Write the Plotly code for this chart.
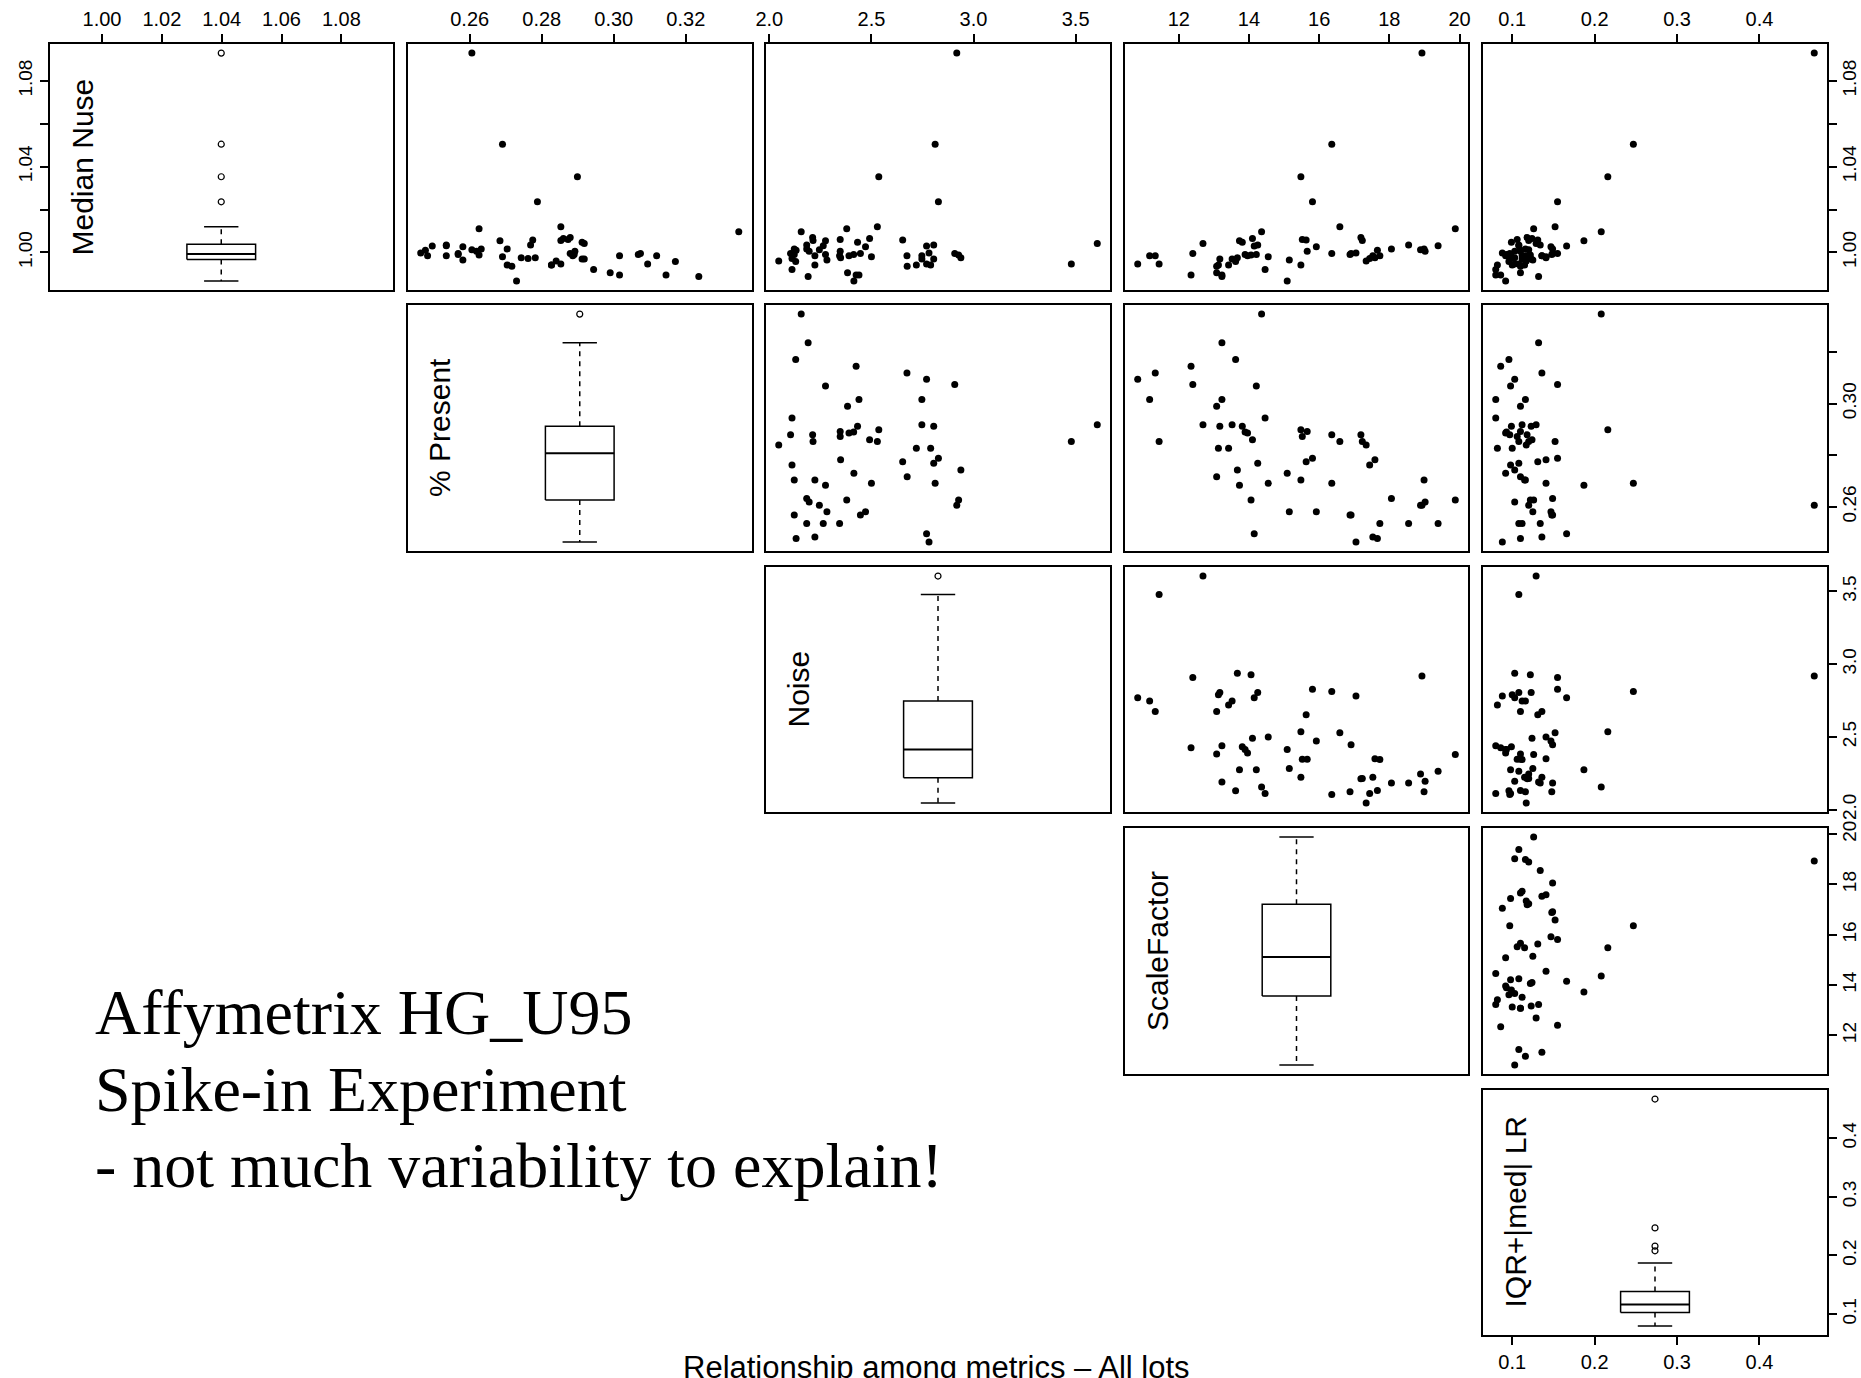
import numpy as np
import plotly.graph_objects as go

# ---- data: one entry per lot -------------------------------------------
median_nuse = [1.0096, 0.9887, 0.9957, 0.9894, 0.9984, 0.9946, 0.9995, 0.9990, 0.9984, 0.9894,
               0.9905, 0.9920, 1.0042, 0.9969, 0.9969, 1.0047, 0.9984, 0.9990, 1.0065, 0.9946,
               0.9941, 0.9941, 1.0353, 1.0005, 1.0060, 0.9995, 1.0120, 1.0070, 1.0055, 0.9960,
               1.0035, 1.0058, 1.0236, 0.9975, 0.9972, 0.9975, 0.9935, 0.9867, 0.9941, 1.0054,
               0.9980, 1.0505, 1.0016, 0.9988, 1.0016, 1.0930, 1.0005, 1.0012, 1.0110, 0.9964,
               1.0026, 0.9995, 0.9990, 0.9984, 1.0034, 1.0031, 1.0030, 0.9997, 0.9984, 1.0010]

pct_present = [0.3347, 0.3236, 0.3171, 0.3145, 0.3119, 0.3094, 0.3074, 0.3068, 0.3016, 0.3016,
               0.2990, 0.2944, 0.2918, 0.2912, 0.2918, 0.2912, 0.2886, 0.2890, 0.2860, 0.2853,
               0.2827, 0.2827, 0.2899, 0.2892, 0.2873, 0.2879, 0.2853, 0.2879, 0.2853, 0.2840,
               0.2769, 0.2775, 0.2788, 0.2782, 0.2762, 0.2743, 0.2717, 0.2730, 0.2704, 0.2684,
               0.2691, 0.2691, 0.2704, 0.2626, 0.2632, 0.2606, 0.2619, 0.2606, 0.2626, 0.2581,
               0.2581, 0.2568, 0.2568, 0.2535, 0.2535, 0.2535, 0.2496, 0.2464, 0.2483, 0.2477]

noise = [2.156, 2.190, 2.129, 2.425, 2.674, 2.770, 2.908, 2.275, 2.747, 2.439,
         2.383, 2.111, 3.606, 2.805, 2.747, 2.432, 2.390, 2.413, 2.491, 3.479,
         2.790, 2.720, 2.536, 2.347, 2.347, 2.104, 2.529, 2.212, 2.214, 2.046,
         2.805, 2.653, 2.828, 2.349, 2.111, 2.938, 2.675, 2.414, 2.223, 2.275,
         2.500, 2.812, 2.122, 2.927, 2.183, 2.918, 2.195, 2.245, 2.379, 2.282,
         2.471, 2.446, 2.122, 2.344, 2.183, 2.264, 2.770, 2.782, 2.223, 2.131]

scale_factor = [14.36, 13.23, 13.62, 12.35, 11.33, 10.83, 12.40, 14.21, 11.17, 13.23,
                13.08, 14.46, 12.69, 13.17, 13.52, 13.81, 13.96, 13.89, 14.10, 11.44,
                13.13, 13.42, 15.48, 15.66, 15.52, 16.36, 16.59, 17.19, 17.23, 17.34,
                14.25, 15.63, 15.81, 17.59, 17.44, 13.67, 13.08, 15.09, 15.48, 13.73,
                14.55, 16.36, 18.99, 14.06, 18.06, 18.93, 19.02, 18.89, 19.88, 15.15,
                15.92, 16.91, 16.88, 17.73, 18.55, 19.39, 14.15, 17.05, 17.53, 17.66]

iqr_med_lr = [0.208, 0.132, 0.096, 0.086, 0.136, 0.103, 0.155, 0.098, 0.116, 0.080,
              0.110, 0.080, 0.129, 0.123, 0.112, 0.099, 0.092, 0.093, 0.124, 0.108,
              0.100, 0.082, 0.216, 0.110, 0.106, 0.097, 0.152, 0.118, 0.120, 0.117,
              0.108, 0.131, 0.155, 0.141, 0.098, 0.103, 0.110, 0.092, 0.115, 0.187,
              0.141, 0.247, 0.116, 0.122, 0.149, 0.4665, 0.103, 0.120, 0.126, 0.125,
              0.147, 0.149, 0.148, 0.112, 0.134, 0.108, 0.166, 0.088, 0.136, 0.110]

var_names = ["Median Nuse", "% Present", "Noise", "ScaleFactor", "IQR+|med| LR"]

tick_vals = [[1.00, 1.02, 1.04, 1.06, 1.08],
             [0.26, 0.28, 0.30, 0.32],
             [2.0, 2.5, 3.0, 3.5],
             [12, 14, 16, 18, 20],
             [0.1, 0.2, 0.3, 0.4]]
tick_text_h = [["1.00", "1.02", "1.04", "1.06", "1.08"],
               ["0.26", "0.28", "0.30", "0.32"],
               ["2.0", "2.5", "3.0", "3.5"],
               ["12", "14", "16", "18", "20"],
               ["0.1", "0.2", "0.3", "0.4"]]
tick_text_v = [["1.00", "", "1.04", "", "1.08"],
               ["0.26", "", "0.30", ""],
               ["2.0", "2.5", "3.0", "3.5"],
               ["12", "14", "16", "18", "20"],
               ["0.1", "0.2", "0.3", "0.4"]]

title_text = "Relationship among metrics \u2013 All lots"
note_lines = ["Affymetrix HG_U95", "Spike-in Experiment", "- not much variability to explain!"]

# ---- page geometry (pixels) -------------------------------------------
W, H = 1861, 1378
col_px = [(49.5, 393), (408, 751.5), (766, 1110), (1125, 1468), (1483, 1827)]
row_px = [(44, 290), (305, 551), (567, 812), (828, 1074), (1090, 1335)]

data = [np.array(v, dtype=float) for v in
        (median_nuse, pct_present, noise, scale_factor, iqr_med_lr)]


def padded_range(v):
    lo, hi = v.min(), v.max()
    d = 0.04 * (hi - lo)
    return [lo - d, hi + d]


ranges = [padded_range(v) for v in data]


def fivenum(v):
    x = np.sort(v)
    n = len(x)
    n4 = np.floor((n + 3) / 2) / 2
    d = np.array([1, n4, (n + 1) / 2, n + 1 - n4, n]) - 1
    return 0.5 * (x[np.floor(d).astype(int)] + x[np.ceil(d).astype(int)])


FONT = "Liberation Sans, Arial, sans-serif"
fig = go.Figure()
layout = dict(width=W, height=H, margin=dict(l=0, r=0, t=0, b=0, autoexpand=False),
              paper_bgcolor="white", plot_bgcolor="white", showlegend=False,
              annotations=[])

k = 0
for i in range(5):
    for j in range(i, 5):
        k += 1
        sfx = "" if k == 1 else str(k)
        xa, ya = "x" + sfx, "y" + sfx
        x0, x1 = col_px[j]
        y0, y1 = row_px[i]

        xaxis = dict(domain=[x0 / W, x1 / W], range=ranges[j], anchor=ya,
                     showline=True, mirror=True, linecolor="black", linewidth=1.8,
                     showgrid=False, zeroline=False, fixedrange=True, automargin=False,
                     showticklabels=False, ticks="")
        yaxis = dict(domain=[1 - y1 / H, 1 - y0 / H], range=ranges[i], anchor=xa,
                     showline=True, mirror=True, linecolor="black", linewidth=1.8,
                     showgrid=False, zeroline=False, fixedrange=True, automargin=False,
                     showticklabels=False, ticks="")
        tick_common = dict(ticks="outside", ticklen=8, tickwidth=1.5, tickcolor="black",
                           showticklabels=True)
        if i == 0:
            xaxis.update(tick_common, side="top", tickmode="array",
                         tickvals=tick_vals[j], ticktext=tick_text_h[j],
                         tickfont=dict(family=FONT, size=20, color="black"))
        if i == 4 and j == 4:
            xaxis.update(tick_common, side="bottom", tickmode="array",
                         tickvals=tick_vals[j], ticktext=tick_text_h[j],
                         tickfont=dict(family=FONT, size=20, color="black"))
        if j == 4:
            yaxis.update(tick_common, side="right", tickangle=-90, tickmode="array",
                         tickvals=tick_vals[i], ticktext=tick_text_v[i],
                         ticklabelstandoff=-4,
                         tickfont=dict(family=FONT, size=19, color="black"))
        if i == 0 and j == 0:
            yaxis.update(tick_common, side="left", tickangle=-90, tickmode="array",
                         tickvals=tick_vals[i], ticktext=tick_text_v[i],
                         tickfont=dict(family=FONT, size=19, color="black"))

        layout["xaxis" + sfx] = xaxis
        layout["yaxis" + sfx] = yaxis

        if i != j:
            fig.add_trace(go.Scatter(x=data[j], y=data[i], mode="markers",
                                     xaxis=xa, yaxis=ya, hoverinfo="skip",
                                     marker=dict(color="black", size=7, line=dict(width=0))))
        else:
            v = data[i]
            lo, hi = ranges[i]
            c = 0.5 * (lo + hi)
            hw = 0.1 * (hi - lo)
            _, q1, med, q3, _ = fivenum(v)
            spread = q3 - q1
            inside = v[(v >= q1 - 1.5 * spread) & (v <= q3 + 1.5 * spread)]
            wlo, whi = inside.min(), inside.max()
            outl = v[(v < wlo) | (v > whi)]
            line = dict(color="black", width=1.5)
            # box and median
            fig.add_trace(go.Scatter(x=[c - hw, c + hw, c + hw, c - hw, c - hw],
                                     y=[q1, q1, q3, q3, q1], mode="lines", line=line,
                                     xaxis=xa, yaxis=ya, hoverinfo="skip"))
            fig.add_trace(go.Scatter(x=[c - hw, c + hw], y=[med, med], mode="lines",
                                     line=dict(color="black", width=2),
                                     xaxis=xa, yaxis=ya, hoverinfo="skip"))
            # dashed whiskers
            fig.add_trace(go.Scatter(x=[c, c, None, c, c], y=[q3, whi, None, q1, wlo],
                                     mode="lines",
                                     line=dict(color="black", width=1.5, dash="5px,5px"),
                                     xaxis=xa, yaxis=ya, hoverinfo="skip"))
            # staples
            fig.add_trace(go.Scatter(x=[c - hw / 2, c + hw / 2, None, c - hw / 2, c + hw / 2],
                                     y=[whi, whi, None, wlo, wlo], mode="lines", line=line,
                                     xaxis=xa, yaxis=ya, hoverinfo="skip"))
            if len(outl):
                fig.add_trace(go.Scatter(x=[c] * len(outl), y=outl, mode="markers",
                                         marker=dict(symbol="circle-open", size=6,
                                                     color="black", line=dict(width=1.2)),
                                         xaxis=xa, yaxis=ya, hoverinfo="skip"))
            # variable name
            layout["annotations"].append(dict(
                text=var_names[i], xref="paper", yref="paper",
                x=(x0 + 32) / W, y=1 - (0.5 * (y0 + y1)) / H,
                xanchor="center", yanchor="middle", textangle=-90, showarrow=False,
                font=dict(family=FONT, size=30, color="black")))

# free text in the empty lower-left corner
for n, (txt, base) in enumerate(zip(note_lines, [1031, 1108, 1184])):
    layout["annotations"].append(dict(
        text=txt, xref="paper", yref="paper", x=93 / W, y=1 - (base - 19) / H,
        xanchor="left", yanchor="middle", showarrow=False,
        font=dict(family="Liberation Serif, Times New Roman, serif", size=64, color="black")))

layout["annotations"].append(dict(
    text=title_text, xref="paper", yref="paper", x=937 / W, y=1 - 1367 / H,
    xanchor="center", yanchor="middle", showarrow=False,
    font=dict(family=FONT, size=31, color="black")))

fig.update_layout(**layout)
fig.write_html("out.html")
